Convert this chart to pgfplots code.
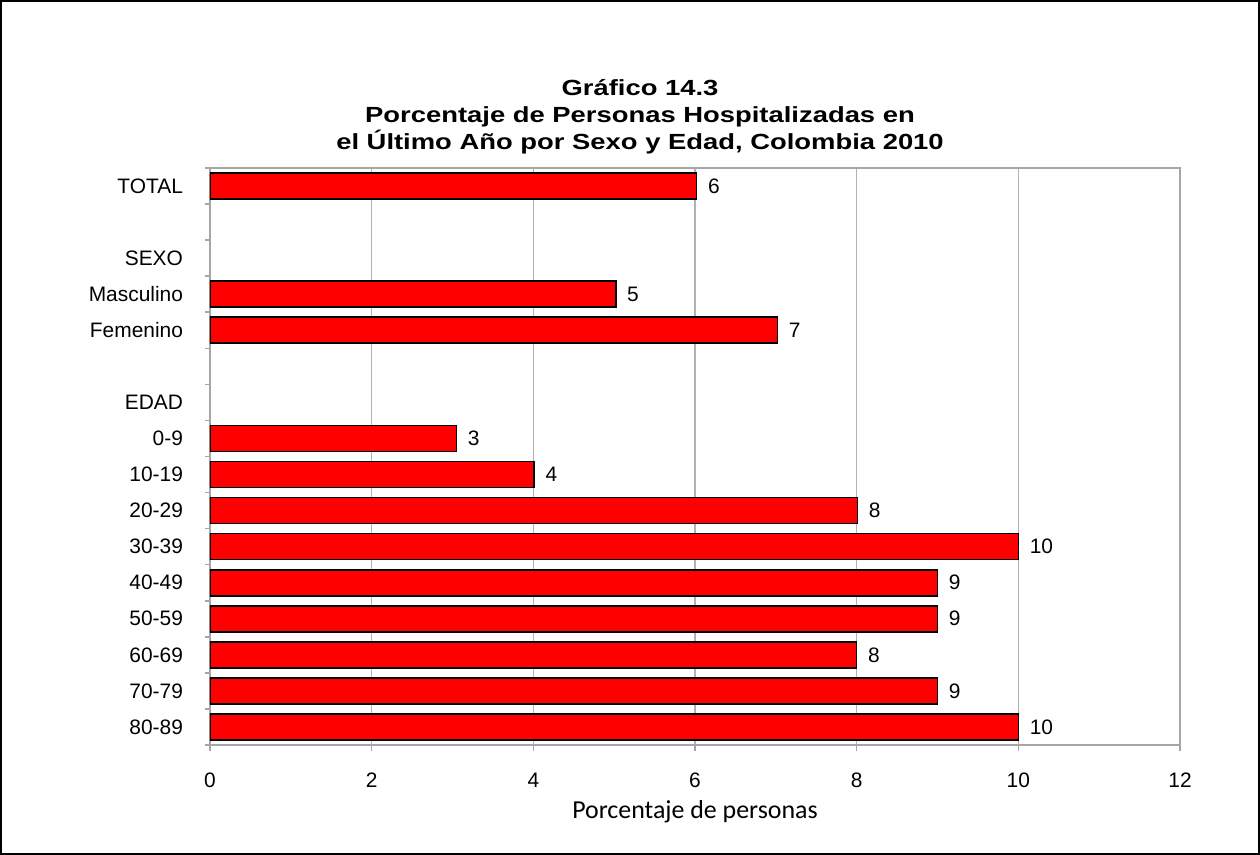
\documentclass[border=0pt]{standalone}
\usepackage{fontspec}
\setmainfont{Liberation Sans}[BoldFont={Liberation Sans Bold}]
\newfontfamily\titlefont{Liberation Sans Bold}[FakeStretch=1.25]
\newfontfamily\calibri{Carlito}
\usepackage{pgfplots}
\usepackage{pgfplotstable}
\pgfplotsset{compat=1.18}

% pos: row (0 = TOTAL, top); val: bar length; lab: shown label
\pgfplotstableread{
pos val lab
0 6.02 6
3 5.02 5
4 7.02 7
7 3.05 3
8 4.01 4
9 8.01 8
10 10.0 10
11 9.0 9
12 9.0 9
13 8.0 8
14 9.0 9
15 10.0 10
}\datos

\begin{document}
\begin{tikzpicture}
\draw[line width=1bp] (-104.5bp,-54.5bp) rectangle (524.5bp,372bp);
\node[align=center, font=\titlefont\fontsize{11}{13.5}\selectfont] at (215bp,314bp)
  {Gráfico 14.3\\Porcentaje de Personas Hospitalizadas en\\el Último Año por Sexo y Edad, Colombia 2010};
\begin{axis}[
  at={(0,0)}, anchor=south west,
  scale only axis, width=485bp, height=288.5bp,
  xbar, bar width=13bp,
  xmin=0, xmax=12, ymin=-0.5, ymax=15.5, y dir=reverse,
  xtick={0,2,...,12},
  xmajorgrids, grid style={gray!60, line width=0.6bp},
  ytick={0,...,15},
  yticklabels={TOTAL,,SEXO,Masculino,Femenino,,EDAD,0-9,10-19,20-29,30-39,40-49,50-59,60-69,70-79,80-89},
  major y tick style={draw=none},
  minor ytick={-0.5,0.5,...,15.5},
  minor tick length=2.5bp, major tick length=3bp,
  tick align=outside, tick pos=left,
  axis line style={gray!70, line width=0.8bp},
  tick style={gray!70, line width=0.8bp},
  tick label style={font=\fontsize{10.5}{12}\selectfont},
  yticklabel style={xshift=-7bp},
  xticklabel style={yshift=-7.5bp},
  /pgf/number format/assume math mode=true,
  xlabel={\calibri Porcentaje de personas},
  xlabel style={font=\fontsize{13}{15}\selectfont, at={(axis description cs:0.5,0)}, anchor=center, yshift=-33.5bp},
  nodes near coords, point meta=explicit symbolic,
  nodes near coords style={anchor=west, xshift=2bp, font=\fontsize{10.5}{12}\selectfont, text=black},
]
\addplot[fill=red, draw=black, line width=0.8bp] table[x=val, y=pos, meta=lab]{\datos};
\end{axis}
\end{tikzpicture}
\end{document}
